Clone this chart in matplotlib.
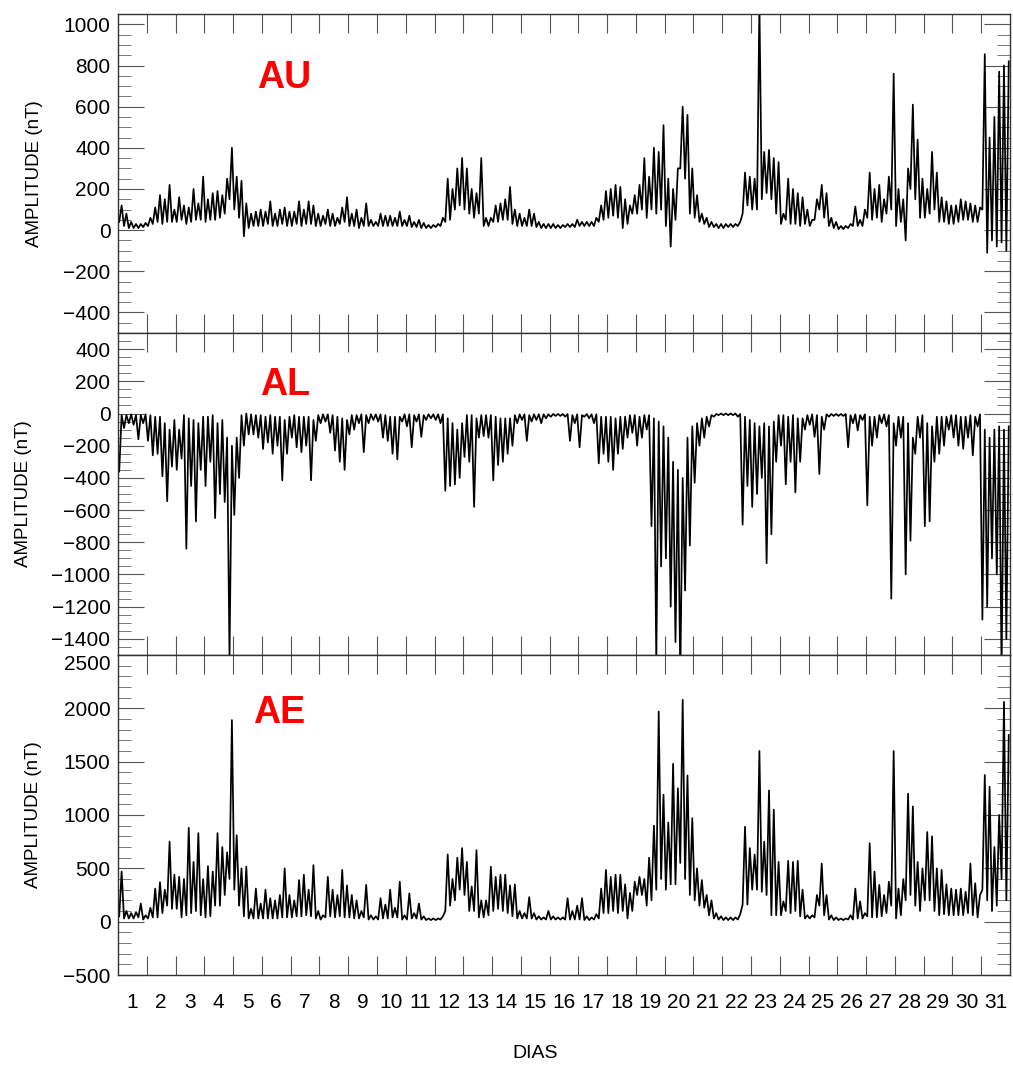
import matplotlib
matplotlib.use("Agg")
import matplotlib.pyplot as plt
from matplotlib.ticker import MultipleLocator
import numpy as np

plt.rcParams['font.family'] = ['Liberation Sans', 'DejaVu Sans']

# values: 6 bins per day, each bin given as (low, high) in nT
au = [
    40, 120, 20, 80, 10, 40, 10, 30, 10, 30, 15, 35,        # 1
    20, 60, 30, 110, 40, 170, 30, 150, 40, 220, 40, 100,    # 2
    40, 160, 50, 120, 30, 110, 40, 200, 50, 130, 50, 260,   # 3
    40, 150, 50, 180, 50, 190, 60, 170, 80, 250, 150, 400,  # 4
    100, 260, 60, 240, -30, 130, 10, 80, 20, 90, 20, 100,   # 5
    20, 90, 30, 140, 20, 80, 20, 100, 30, 110, 20, 90,      # 6
    20, 90, 30, 140, 20, 100, 30, 140, 30, 120, 20, 80,     # 7
    20, 70, 30, 100, 20, 80, 20, 60, 30, 110, 40, 160,      # 8
    20, 80, 20, 100, 10, 60, 20, 130, 20, 50, 20, 40,       # 9
    20, 80, 20, 70, 20, 70, 20, 60, 20, 90, 20, 50,         # 10
    20, 70, 15, 40, 15, 50, 10, 35, 10, 25, 10, 25,         # 11
    15, 30, 20, 60, 40, 250, 50, 200, 100, 300, 120, 350,   # 12
    100, 300, 80, 200, 60, 180, 80, 350, 20, 60, 20, 60,    # 13
    40, 120, 40, 130, 50, 150, 50, 210, 30, 100, 20, 80,    # 14
    20, 60, 20, 100, 20, 80, 15, 40, 10, 30, 10, 30,        # 15
    10, 30, 10, 25, 10, 25, 15, 30, 15, 30, 15, 50,         # 16
    20, 40, 20, 40, 20, 40, 20, 60, 40, 120, 50, 190,       # 17
    60, 200, 70, 220, 60, 210, 10, 150, 30, 120, 80, 170,   # 18
    80, 220, 100, 350, 60, 260, 100, 400, 80, 380, 100, 510,  # 19
    20, 250, -80, 200, 50, 300, 300, 600, 250, 560, 80, 300,  # 20
    60, 170, 40, 80, 30, 60, 15, 40, 15, 30, 10, 30,        # 21
    10, 30, 15, 30, 15, 30, 20, 40, 80, 280, 120, 260,      # 22
    100, 250, 100, 1100, 150, 380, 180, 390, 150, 350, 80, 330,  # 23
    30, 80, 50, 250, 30, 200, 30, 180, 20, 160, 30, 100,    # 24
    20, 50, 50, 150, 100, 220, 60, 180, 20, 60, 10, 40,     # 25
    5, 20, 5, 20, 10, 30, 20, 115, 20, 50, 20, 100,         # 26
    60, 280, 50, 200, 60, 220, 40, 150, 80, 260, 100, 760,  # 27
    20, 200, 40, 150, -50, 300, 200, 610, 150, 440, 60, 250,  # 28
    60, 200, 80, 380, 100, 280, 40, 160, 40, 140, 30, 120,  # 29
    30, 120, 40, 150, 50, 140, 50, 130, 40, 120, 40, 110,   # 30
    100, 855, -110, 450, -50, 550, -80, 770, -60, 800, -100, 820,  # 31
]

al = [
    -360, -10, -90, -10, -60, -5, -70, -10, -160, -10, -60, -5,          # 1
    -170, -10, -260, -20, -250, -20, -390, -60, -545, -100, -330, -40,   # 2
    -350, -100, -280, -10, -840, -30, -450, -40, -670, -60, -350, -20,   # 3
    -450, -20, -300, -10, -650, -60, -500, -40, -550, -150, -1520, -200,  # 4
    -630, -150, -400, -10, -200, 0, -130, -5, -130, -10, -150, -10,      # 5
    -220, -20, -180, -10, -250, -20, -200, -20, -415, -40, -250, -20,    # 6
    -150, -10, -210, -20, -240, -20, -200, -20, -415, -40, -170, -10,    # 7
    -60, -5, -50, -5, -120, -10, -230, -20, -300, -30, -350, -40,        # 8
    -130, -10, -100, -10, -60, -5, -240, -10, -60, -5, -40, -5,          # 9
    -50, -5, -150, -10, -170, -20, -250, -20, -285, -20, -50, -5,        # 10
    -80, -5, -210, -10, -50, -5, -145, -10, -40, -5, -30, -5,            # 11
    -40, -5, -60, -5, -480, -30, -450, -60, -440, -100, -400, -60,       # 12
    -270, -10, -300, -10, -580, -30, -150, -10, -140, -10, -150, -10,    # 13
    -415, -20, -320, -30, -300, -30, -250, -30, -200, -10, -60, -5,      # 14
    -40, -5, -170, -10, -50, -5, -40, -5, -60, -5, -30, -5,              # 15
    -20, -3, -15, -3, -15, -3, -20, -3, -170, -10, -60, -5,              # 16
    -210, -10, -20, -3, -30, -5, -60, -5, -310, -20, -250, -20,          # 17
    -300, -20, -350, -30, -250, -20, -220, -20, -150, -10, -120, -10,    # 18
    -200, -20, -150, -10, -100, -10, -700, -30, -1550, -50, -950, -80,   # 19
    -900, -150, -1200, -300, -1420, -350, -1650, -400, -1100, -150, -820, -80,  # 20
    -430, -60, -200, -30, -150, -20, -80, -10, -20, -3, -10, 0,          # 21
    -10, 0, -10, 0, -10, 0, -20, -3, -690, -20, -450, -40,               # 22
    -580, -60, -500, -80, -400, -60, -930, -80, -750, -50, -300, -10,    # 23
    -200, -10, -440, -20, -300, -10, -490, -30, -300, -30, -100, -10,    # 24
    -70, -5, -145, -10, -375, -20, -100, -5, -20, -3, -15, -3,           # 25
    -15, -3, -15, -3, -210, -10, -60, -5, -105, -10, -40, -5,            # 26
    -570, -20, -200, -20, -150, -10, -60, -5, -80, -10, -1150, -60,      # 27
    -200, -20, -150, -20, -1000, -60, -790, -150, -250, -20, -150, -10,  # 28
    -700, -60, -670, -80, -300, -20, -250, -20, -200, -20, -100, -10,    # 29
    -150, -10, -200, -20, -220, -20, -150, -10, -260, -20, -80, -5,      # 30
    -1280, -100, -1200, -150, -900, -100, -1000, -80, -1600, -100, -1400, -80,  # 31
]

ae = [
    50, 470, 30, 100, 30, 80, 30, 90, 40, 170, 20, 60,            # 1
    30, 130, 40, 310, 40, 370, 80, 300, 150, 750, 120, 440,       # 2
    120, 420, 40, 400, 60, 880, 80, 560, 100, 830, 60, 400,       # 3
    40, 520, 50, 470, 150, 830, 150, 700, 250, 650, 400, 1890,    # 4
    300, 810, 150, 500, 50, 515, 30, 120, 30, 310, 30, 170,       # 5
    30, 300, 30, 220, 30, 200, 30, 250, 40, 500, 40, 250,         # 6
    40, 200, 50, 390, 50, 440, 60, 300, 50, 530, 30, 100,         # 7
    20, 60, 40, 420, 50, 300, 40, 250, 50, 485, 40, 340,          # 8
    40, 250, 30, 200, 30, 100, 40, 345, 20, 60, 20, 50,           # 9
    20, 220, 30, 160, 30, 300, 40, 130, 40, 375, 20, 60,          # 10
    20, 265, 30, 80, 30, 170, 20, 50, 15, 30, 15, 30,             # 11
    15, 30, 20, 50, 100, 630, 150, 400, 200, 600, 300, 690,       # 12
    250, 560, 100, 330, 100, 670, 40, 200, 40, 200, 60, 515,      # 13
    100, 420, 120, 440, 100, 440, 80, 340, 50, 350, 30, 100,      # 14
    30, 80, 30, 230, 30, 80, 20, 50, 20, 40, 20, 100,             # 15
    20, 50, 20, 40, 20, 40, 20, 220, 20, 100, 20, 150,            # 16
    20, 220, 15, 50, 15, 40, 20, 70, 30, 310, 80, 485,            # 17
    80, 420, 100, 440, 80, 440, 100, 350, 30, 270, 100, 375,      # 18
    250, 420, 250, 400, 150, 600, 200, 900, 300, 1970, 400, 1190,  # 19
    300, 930, 350, 1480, 350, 1250, 550, 2080, 400, 1370, 250, 970,  # 20
    200, 500, 150, 390, 130, 250, 60, 200, 30, 80, 20, 50,        # 21
    15, 40, 15, 40, 15, 40, 20, 70, 160, 890, 160, 690,           # 22
    300, 630, 300, 1600, 280, 750, 250, 1230, 60, 1050, 60, 560,  # 23
    60, 190, 100, 570, 80, 560, 100, 570, 50, 300, 30, 60,        # 24
    30, 60, 40, 250, 150, 545, 60, 250, 20, 60, 15, 40,           # 25
    15, 30, 15, 30, 20, 60, 20, 310, 30, 190, 30, 80,             # 26
    50, 735, 40, 470, 40, 345, 50, 250, 80, 375, 150, 1600,       # 27
    30, 310, 60, 400, 200, 1200, 250, 1080, 150, 560, 100, 500,   # 28
    200, 840, 200, 800, 100, 500, 60, 485, 70, 350, 60, 310,      # 29
    60, 300, 60, 310, 60, 280, 80, 545, 60, 360, 40, 250,         # 30
    300, 1375, 200, 1265, 100, 700, 150, 1000, 400, 2060, 200, 1750,  # 31
]

days = [str(d) for d in range(1, 32)]
names = ['AU', 'AL', 'AE']
series = [au, al, ae]
ylims = [(-500, 1050), (-1500, 500), (-500, 2500)]
yticks = [np.arange(-400, 1001, 200), np.arange(-1400, 401, 200), np.arange(-500, 2501, 500)]
yminor = [50, 50, 100]

# two samples per 4-hour bin, in days since the start of the month
t = (np.arange(len(au)) + 0.5) / 12.0

fig = plt.figure(figsize=(10.13, 10.65), dpi=100)
boxes = [(0.1165, 0.6873, 0.8805, 0.2995),
         (0.1165, 0.3850, 0.8805, 0.3023),
         (0.1165, 0.0845, 0.8805, 0.3005)]
name_pos = [(0.156, 0.768), (0.159, 0.807), (0.151, 0.7875)]
ylab_pos = [(35, 173.5), (23, 494), (34, 815)]

for i, ax_box in enumerate(boxes):
    ax = fig.add_axes(ax_box)
    ax.plot(t, series[i], color='black', lw=1.25)
    ax.set_xlim(0, 31)
    ax.set_ylim(*ylims[i])

    ax.set_xticks(range(1, 31))
    ax.set_xticklabels([])
    ax.tick_params(axis='x', which='major', direction='in', length=13.5,
                   width=0.8, color='#555555', top=True, bottom=True)
    if i == 2:
        ax.set_xticks(np.arange(31) + 0.5, days, minor=True)
    else:
        ax.set_xticks(np.arange(31) + 0.5, [''] * 31, minor=True)
    ax.tick_params(axis='x', which='minor', length=0, pad=13, labelsize=15)

    ax.set_yticks(yticks[i])
    ax.yaxis.set_minor_locator(MultipleLocator(yminor[i]))
    ax.tick_params(axis='y', which='major', direction='in', length=19,
                   width=0.8, color='#555555', left=True, right=True,
                   labelsize=15, pad=5.5)
    ax.tick_params(axis='y', which='minor', direction='in', length=9.5,
                   width=0.7, color='#777777', left=True, right=True)
    if i == 2:
        # the top label of the AE panel hangs below its tick, as in the original
        ax.yaxis.get_major_ticks()[-1].label1.set_verticalalignment('top')
    for sp in ax.spines.values():
        sp.set_linewidth(1.0)
        sp.set_color('#333333')

    ax.text(name_pos[i][0], name_pos[i][1], names[i], transform=ax.transAxes,
            color='red', fontsize=27, fontweight='bold')
    fig.text(ylab_pos[i][0] / 1013, 1 - ylab_pos[i][1] / 1065, 'AMPLITUDE (nT)',
             rotation=90, ha='center', va='center', fontsize=13.5)

fig.text(535 / 1013, 1 - 1053 / 1065, 'DIAS', ha='center', va='center', fontsize=14)

fig.savefig('out.png', dpi=100)
